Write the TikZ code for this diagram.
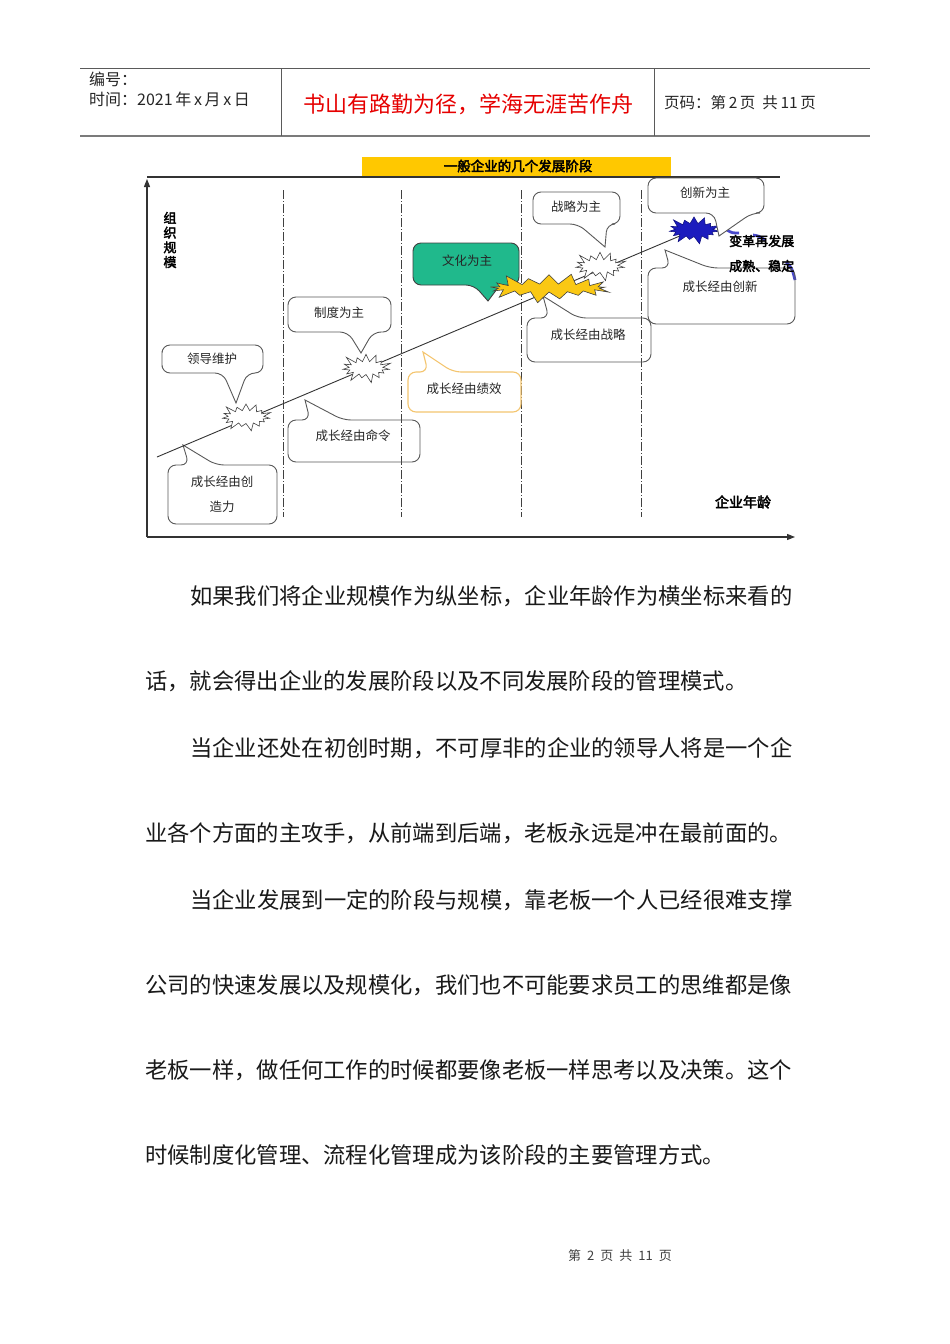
\documentclass[tikz,border=0pt]{standalone}
\usepackage{fontspec}
\usetikzlibrary{shapes.symbols,arrows.meta}
\newfontfamily\cjk{Noto Sans CJK SC}
\newfontfamily\cjkb[FakeBold=3]{Noto Sans CJK SC}
\definecolor{hdrline}{RGB}{90,90,90}
\definecolor{tealbox}{RGB}{32,185,140}
\definecolor{staryellow}{RGB}{250,200,20}
\definecolor{starblue}{RGB}{28,28,190}
\definecolor{titlebar}{RGB}{255,200,0}
\definecolor{orangeline}{RGB}{244,197,111}
\definecolor{bodytext}{RGB}{25,25,25}
\newcommand\calbot[9]{\draw[#1] (#2,{(#3+#5)/2}) -- (#2,#3) -- (#4,#3) -- (#4,#5) -- (#7,#5) [sharp corners] -- (#8,#9) [rounded corners=8] -- (#6,#5) -- (#2,#5) -- cycle;}
\newcommand\caltop[9]{\draw[#1] (#2,{(#3+#5)/2}) -- (#2,#3) -- (#6,#3) [sharp corners] -- (#8,#9) [rounded corners=8] -- (#7,#3) -- (#4,#3) -- (#4,#5) -- (#2,#5) -- cycle;}
\begin{document}
\begin{tikzpicture}[x=1pt,y=-1pt,
  cb/.style={draw=black!65,line width=0.9pt,rounded corners=8},
  ctext/.style={font=\cjk\fontsize{12.5}{14}\selectfont,inner sep=0pt,text=black!85},
  btext/.style={font=\cjkb\fontsize{13}{14.7}\selectfont,inner sep=0pt,align=center},
  body/.style={font=\cjk\fontsize{22.3}{24}\selectfont,anchor=west,inner sep=0pt,text=bodytext},
  hdr/.style={font=\cjk\fontsize{16}{18}\selectfont,anchor=west,inner sep=0pt,text=black!85},
  burst/.style={starburst,draw=black!75,line width=0.6pt,inner sep=0pt,starburst points=15},
  stage/.style={draw=black!75,line width=0.7pt,dash pattern=on 9pt off 2pt on 1pt off 2pt},
  bluemark/.style={draw=starblue!80,line width=2.8pt},
  axis/.style={draw=black!80,line width=1.1pt,-{Triangle[length=8pt,width=6pt]}}]
\useasboundingbox (0,0) rectangle (950,1344);
\fill[white] (0,0) rectangle (950,1344);

% ---------- header ----------
\draw[hdrline,line width=0.8pt] (80,68) -- (870,68);
\draw[hdrline!80,line width=1.4pt] (80,136) -- (870,136);
\draw[hdrline,line width=0.8pt] (281,68) -- (281,136);
\draw[hdrline,line width=0.8pt] (654,68) -- (654,136);
\node[hdr] (bh) at (89,79) {编号：};
\node[hdr] (sj) at (89,99) {时间：2021\,年\,x\,月\,x\,日};
\node[font=\cjk\fontsize{22}{24}\selectfont,text={rgb,255:red,230;green,0;blue,0},inner sep=0pt] (motto) at (468,104) {书山有路勤为径，学海无涯苦作舟};
\node[hdr,font=\cjk\fontsize{15.5}{17}\selectfont] (ym) at (664,103) {页码：第\,2\,页\ \ 共\,11\,页};

% ---------- chart frame ----------
\fill[titlebar] (362,157) rectangle (671,176);
\node[font=\cjkb\fontsize{13.5}{15}\selectfont,inner sep=0pt] (title) at (518,166) {一般企业的几个发展阶段};
\draw[black!80,line width=1.3pt] (147,177) -- (780,177);
\coordinate (O) at (147,537);
\coordinate (Ytop) at (147,179);
\coordinate (Xend) at (795,537);
\draw[axis] (O) -- (Ytop);
\draw[axis] (O) -- (Xend);
\node[btext] (ylab) at (170,240) {组\\织\\规\\模};
\node[btext,font=\cjkb\fontsize{14}{16}\selectfont] (xlab) at (743,502) {企业年龄};

% stage separators
\foreach \x/\n in {283/a,401/b,521/c,641/d}{
  \coordinate (s\n top) at (\x,190);
  \coordinate (s\n bot) at (\x,517);
  \draw[stage] (s\n top) -- (s\n bot);
}

% blue curved marks
\draw[bluemark] (727,230) .. controls (732,233) .. (739,233);
\draw[bluemark] (753,235) .. controls (759,236) .. (765,240);
\draw[bluemark] (786,262) .. controls (792,268) .. (795,280);

% ---------- callouts ----------
\calbot{cb}{162}{345}{263}{373}{223}{247}{236}{403}
\caltop{cb}{168}{465}{277}{524}{189}{216}{183}{445}
\calbot{cb}{288}{297}{391}{332}{348}{373}{361}{353}
\caltop{cb}{288}{420}{420}{462}{310}{343}{305}{400}
\calbot{cb,fill=tealbox,draw=black!75}{413}{243}{519}{285}{474}{500}{488}{301}
\caltop{cb,draw=orangeline,line width=1.1pt}{408}{372}{521}{412}{428}{453}{423}{352}
\calbot{cb}{533}{192}{620}{224}{578}{607}{605}{247}
\caltop{cb}{527}{318}{651}{362}{549}{578}{543}{296}
\caltop{cb}{648}{268}{795}{324}{670}{710}{665}{250}

% ---------- growth line and stars ----------
\coordinate (g0) at (157,457);
\coordinate (g1) at (694,230);
\draw[black!80,line width=0.9pt] (g0) -- (g1);
\node[burst,fill=white,minimum width=54pt,minimum height=31pt,starburst point height=9pt] (b1) at (246,417) {};
\node[burst,fill=white,minimum width=54pt,minimum height=33pt,starburst point height=10pt] (b2) at (366,368) {};
\node[burst,fill=staryellow,minimum width=128pt,minimum height=34pt,starburst points=17,starburst point height=13pt] (b3) at (549,288) {};
\node[burst,fill=white,minimum width=56pt,minimum height=33pt,starburst point height=10pt] (b4) at (600,266) {};
\node[burst,fill=starblue,draw=starblue!70!black,minimum width=56pt,minimum height=31pt,starburst point height=9pt] (b5) at (g1) {};

% callout over the blue star
\calbot{cb,fill=white}{648}{178}{764}{213}{714}{752}{719}{236}

% ---------- callout texts ----------
\node[ctext] (c1) at (212,359) {领导维护};
\node[ctext,align=center,font=\cjk\fontsize{12.5}{25}\selectfont] (c2) at (222,494) {成长经由创\\造力};
\node[ctext] (c3) at (339,313) {制度为主};
\node[ctext] (c4) at (353,436) {成长经由命令};
\node[ctext] (c5) at (467,261) {文化为主};
\node[ctext] (c6) at (464,389) {成长经由绩效};
\node[ctext] (c7) at (576,207) {战略为主};
\node[ctext] (c8) at (588,335) {成长经由战略};
\node[ctext] (c9) at (705,193) {创新为主};
\node[ctext] (c10) at (720,287) {成长经由创新};
\node[btext,anchor=west] (d1) at (729,241) {变革再发展};
\node[btext,anchor=west] (d2) at (729,266) {成熟、稳定};

% ---------- body text ----------
\node[body] (p1) at (190,596) {如果我们将企业规模作为纵坐标，企业年龄作为横坐标来看的};
\node[body] (p2) at (145,681) {话，就会得出企业的发展阶段以及不同发展阶段的管理模式。};
\node[body] (p3) at (190,748) {当企业还处在初创时期，不可厚非的企业的领导人将是一个企};
\node[body] (p4) at (145,833) {业各个方面的主攻手，从前端到后端，老板永远是冲在最前面的。};
\node[body] (p5) at (190,900) {当企业发展到一定的阶段与规模，靠老板一个人已经很难支撑};
\node[body] (p6) at (145,985) {公司的快速发展以及规模化，我们也不可能要求员工的思维都是像};
\node[body] (p7) at (145,1070) {老板一样，做任何工作的时候都要像老板一样思考以及决策。这个};
\node[body] (p8) at (145,1155) {时候制度化管理、流程化管理成为该阶段的主要管理方式。};

% ---------- footer ----------
\node[font=\cjk\fontsize{13}{15}\selectfont,text=black!75,inner sep=0pt] (foot) at (620,1256) {第\hspace{6pt}2\hspace{6pt}页\hspace{6pt}共\hspace{6pt}11\hspace{6pt}页};
\end{tikzpicture}
\end{document}
